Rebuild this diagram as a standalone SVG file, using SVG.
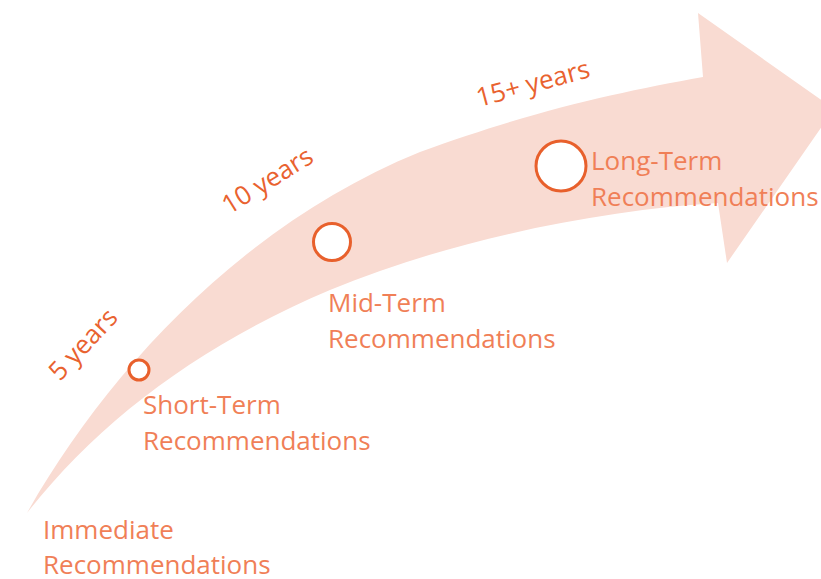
<svg xmlns="http://www.w3.org/2000/svg" width="821" height="579" viewBox="0 0 821 579">
<style>
.lbl{font-family:"Open Sans","Liberation Sans",sans-serif;font-size:26px;fill:#f07f57}
.yr{font-family:"Open Sans","Liberation Sans",sans-serif;font-size:26px;fill:#e9622f}
.dot{fill:#ffffff;stroke:#e8602c;stroke-width:3}
</style>
<rect width="821" height="579" fill="#ffffff"/>
<g id="arrow">
<path d="M27,513 C105,375 240,225 420,152 C535,110 620,92 703,77 L698,13 L834,109 L727,263 L718,203 C600,210 450,240 330,290 C200,345 100,420 27,513 Z" fill="#f9dbd2"/>
</g>
<g id="connectors"></g>
<g id="immediate">
<text class="lbl" x="43" y="539">Immediate</text>
<text class="lbl" x="43" y="574">Recommendations</text>
</g>
<g id="short-term">
<circle class="dot" cx="139" cy="370" r="10"/>
<text class="lbl" x="143" y="414">Short-Term</text>
<text class="lbl" x="143" y="450">Recommendations</text>
<text class="yr" transform="translate(60,382) rotate(-47)">5 years</text>
</g>
<g id="mid-term">
<circle class="dot" cx="332" cy="242" r="18.5"/>
<text class="lbl" x="328" y="312">Mid-Term</text>
<text class="lbl" x="328" y="348">Recommendations</text>
<text class="yr" transform="translate(229,215) rotate(-32)">10 years</text>
</g>
<g id="long-term">
<circle class="dot" cx="561" cy="166" r="25"/>
<text class="lbl" x="591" y="170">Long-Term</text>
<text class="lbl" x="591" y="206">Recommendations</text>
<text class="yr" transform="translate(479,107) rotate(-15)">15+ years</text>
</g>
</svg>
